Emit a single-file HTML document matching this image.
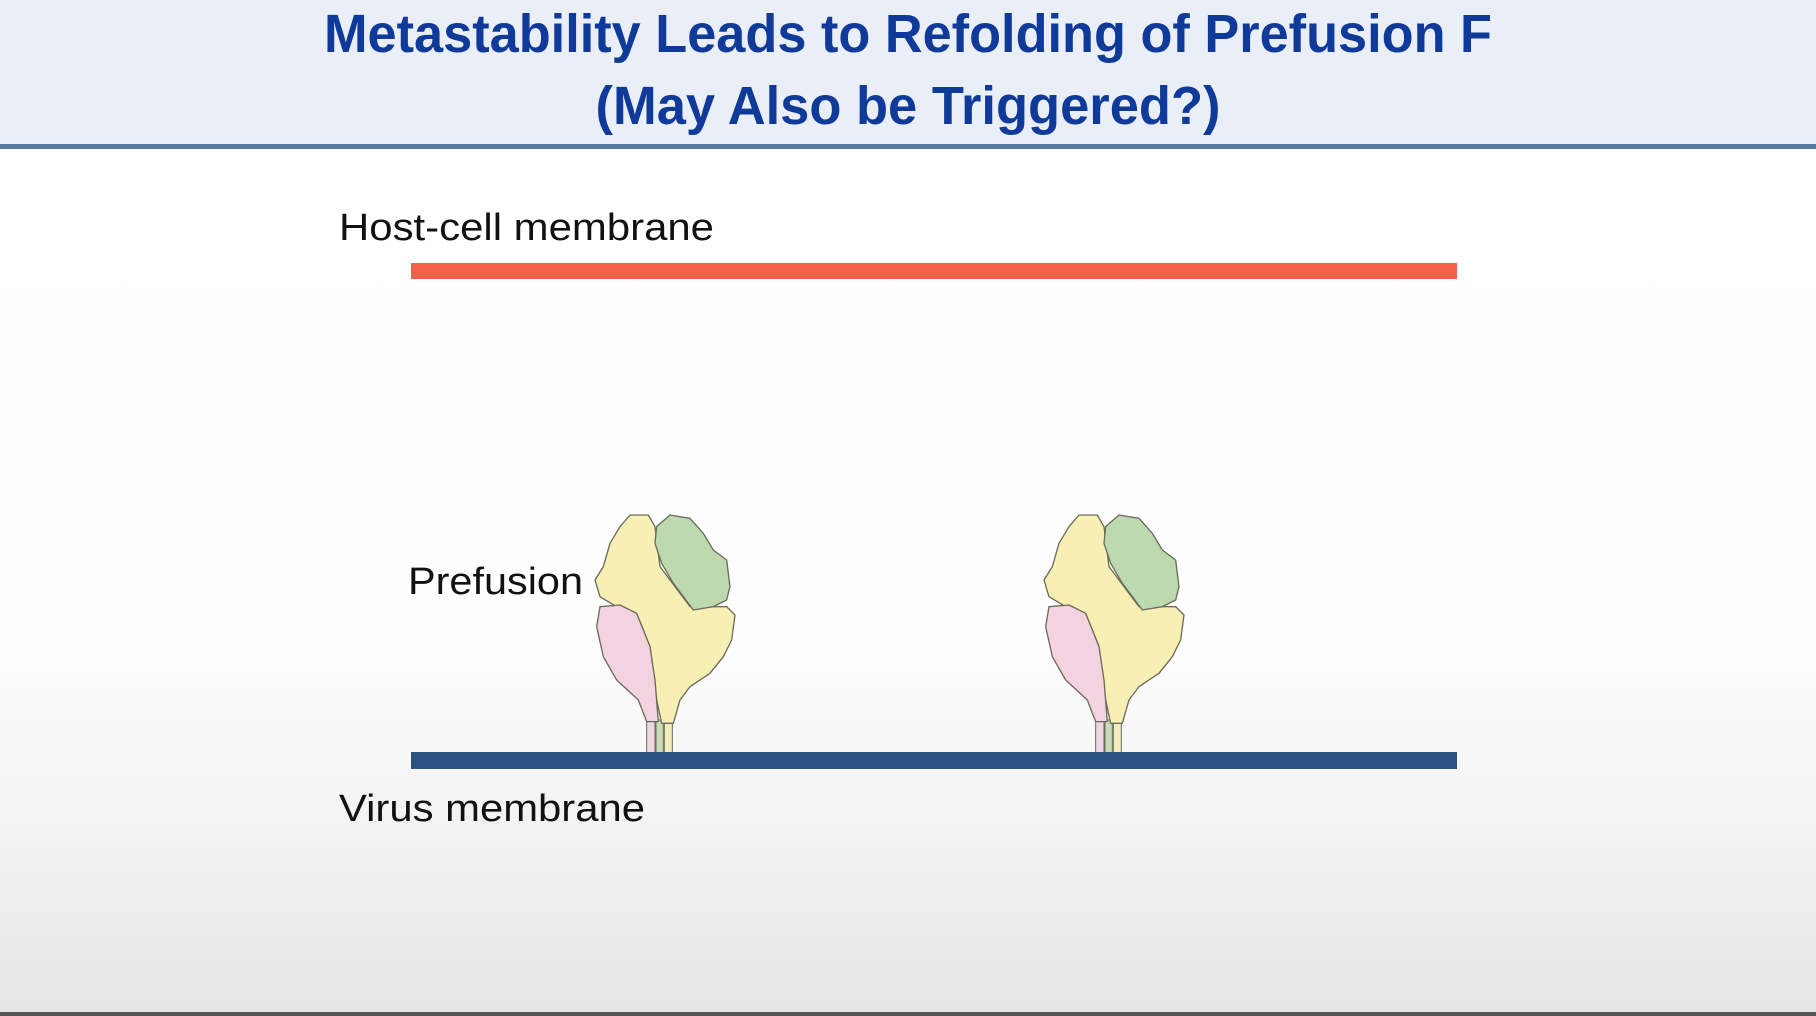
<!DOCTYPE html>
<html><head><meta charset="utf-8"><style>
html,body{margin:0;padding:0;width:1816px;height:1016px;overflow:hidden;background:#fff}
svg{display:block}
text{font-family:"Liberation Sans",sans-serif}
</style></head><body>
<svg width="1816" height="1016" viewBox="0 0 1816 1016">
<defs>
<linearGradient id="bg" x1="0" y1="0" x2="0" y2="1">
<stop offset="0" stop-color="#ffffff"/><stop offset="0.55" stop-color="#fefefe"/><stop offset="0.72" stop-color="#f6f6f6"/><stop offset="1" stop-color="#e6e6e6"/>
</linearGradient>
</defs>
<rect x="0" y="148" width="1816" height="868" fill="url(#bg)"/>
<rect x="0" y="0" width="1816" height="145" fill="#e9eef7"/>
<rect x="0" y="144" width="1816" height="5" fill="#5a7aa6"/>
<text x="908" y="52" text-anchor="middle" font-size="54" font-weight="bold" fill="#0f3a99" textLength="1168" lengthAdjust="spacingAndGlyphs">Metastability Leads to Refolding of Prefusion F</text>
<text x="908" y="124" text-anchor="middle" font-size="54" font-weight="bold" fill="#0f3a99" textLength="625" lengthAdjust="spacingAndGlyphs">(May Also be Triggered?)</text>
<text x="339" y="240" font-size="38" fill="#111" textLength="375" lengthAdjust="spacingAndGlyphs">Host-cell membrane</text>
<rect x="411" y="263" width="1046" height="16" fill="#f4604c"/>
<text x="408" y="594" font-size="38" fill="#111" textLength="175" lengthAdjust="spacingAndGlyphs">Prefusion</text>
<g id="p1" transform="translate(580,500)">
<g transform="scale(0.3333)" stroke="#6b6b5a" stroke-width="4" stroke-linejoin="round">
<rect x="200" y="660" width="25" height="100" fill="#eed7e3" stroke-width="3"/>
<rect x="228" y="660" width="22" height="100" fill="#c8dcb8" stroke-width="3"/>
<rect x="253" y="660" width="24" height="100" fill="#f3ecbd" stroke-width="3"/>
<path d="M150,45 L205,45 L225,80 L240,200 L330,320 L440,320 L465,345 L455,420 L430,470 L390,520 L330,560 L300,600 L280,670 L245,670 L230,600 L210,440 L170,340 L110,320 L60,290 L45,240 L70,200 L90,130 L120,80 Z" fill="#f8efb5"/>
<path d="M230,80 L270,45 L330,55 L370,100 L400,150 L440,180 L450,260 L440,300 L400,320 L340,330 L280,250 L245,190 L225,130 Z" fill="#bcd9b0"/>
<path d="M60,320 L120,315 L170,340 L210,440 L225,540 L235,665 L200,665 L175,600 L110,540 L70,470 L50,380 Z" fill="#f3d3e0"/>
</g>
</g>
<g transform="translate(449,0)">
<use href="#p1"/>
</g>
<rect x="411" y="752" width="1046" height="17" fill="#2b5082"/>
<text x="339" y="821" font-size="38" fill="#111" textLength="306" lengthAdjust="spacingAndGlyphs">Virus membrane</text>
<rect x="0" y="1012" width="1816" height="4" fill="#555"/>
</svg>
</body></html>
